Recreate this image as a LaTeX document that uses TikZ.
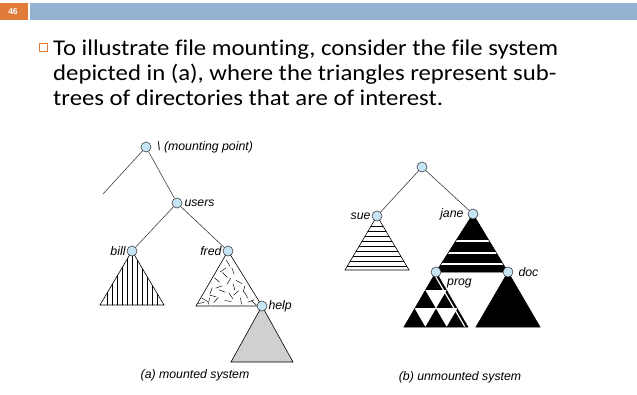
\documentclass[tikz,border=0pt]{standalone}
\usepackage{fontspec}
\setmainfont{Carlito}[FakeStretch=1.1,Ligatures=NoCommon]
\newfontfamily\figfont{Liberation Sans}
\usetikzlibrary{positioning,backgrounds}
\definecolor{slideorange}{HTML}{E07B39}
\definecolor{slideblue}{HTML}{95B3D1}
\definecolor{nodeblue}{HTML}{C6E6F5}
\definecolor{subtreegray}{HTML}{D0D0D0}

\begin{document}
\begin{tikzpicture}[x=1pt,y=-1pt]
\tikzset{
  dirnode/.style={circle,draw=black!75,fill=nodeblue,line width=0.6pt,minimum size=10pt,inner sep=0pt},
  dirlabel/.style={font=\figfont\itshape\fontsize{12.3}{14}\selectfont,inner sep=1pt},
  bodytext/.style={anchor=base west,inner sep=0pt,font=\fontsize{22.5}{25}\selectfont},
  treeedge/.style={draw=black!75,line width=0.6pt},
  subtree/.style={draw=black,line width=0.6pt}
}
\useasboundingbox (0,0) rectangle (637,394);
% slide header
\fill[slideorange] (0,3) rectangle (28,20);
\fill[slideblue] (30,3) rectangle (637,20);
\node[text=white,font=\figfont\bfseries\fontsize{8.5}{9}\selectfont] (slide_no) at (13,11.5) {46};

% bullet text
\draw[slideorange,line width=0.8pt] (39,43) rectangle (47,51);
\node[bodytext] (line_1) at (53,55) {To illustrate file mounting, consider the file system};
\node[bodytext] (line_2) at (53,80) {depicted in (a), where the triangles represent sub-};
\node[bodytext] (line_3) at (53,105) {trees of directories that are of interest.};

% (a) mounted system
\node[dirnode] (root_a) at (146,147) {};
\node[dirlabel,anchor=west] (root_a_lbl) at (156,147) {\textbackslash\ (mounting point)};
\coordinate (root_a_left) at (103,194);
\node[dirnode] (users) at (177,203) {};
\node[dirlabel,right=1pt of users] (users_lbl) {users};
\node[dirnode] (bill) at (132,251) {};
\node[dirlabel,left=0pt of bill] (bill_lbl) {bill};
\node[dirnode] (fred) at (228,251) {};
\node[dirlabel,left=0pt of fred] (fred_lbl) {fred};
\node[dirnode] (help) at (262,306) {};
\node[dirlabel,right=0pt of help] (help_lbl) {help};
\node[dirlabel] (cap_a) at (195,375) {(a) mounted system};

% (b) unmounted system
\node[dirnode] (root_b) at (422,167) {};
\node[dirnode] (sue) at (377,216) {};
\node[dirlabel,left=0pt of sue] (sue_lbl) {sue};
\node[dirnode] (jane) at (473,214) {};
\node[dirlabel,left=3pt of jane] (jane_lbl) {jane};
\node[dirnode] (prog) at (436,272) {};
\node[dirlabel,anchor=west] (prog_lbl) at (446,283) {prog};
\node[dirnode] (doc) at (508,272) {};
\node[dirlabel,right=4pt of doc] (doc_lbl) {doc};
\node[dirlabel] (cap_b) at (460,377) {(b) unmounted system};

\begin{scope}[on background layer]
  \draw[treeedge] (root_a) -- (root_a_left);
  \draw[treeedge] (root_a) -- (users);
  \draw[treeedge] (users) -- (bill);
  \draw[treeedge] (users) -- (fred);
  \draw[treeedge] (root_b) -- (sue);
  \draw[treeedge] (root_b) -- (jane);

  % bill: vertical hatching
  \begin{scope}
    \clip (bill.center) -- ++(-32,54) -- ++(64,0) -- cycle;
    \foreach \dx in {-25,-20,...,25}
      \draw[line width=0.5pt] ([xshift=\dx pt]bill.center) -- ++(0,60);
  \end{scope}
  \draw[subtree] (bill.center) -- ++(-32,54) -- ++(64,0) -- cycle;

  % fred: scattered dashes
  \fill[white] (fred.center) -- (help.center) -- ++(-66,0) -- cycle;
  \foreach \x/\y/\a in {0/12/60,-5/19/-35,5/20/70,-11/29/40,1/30/-60,11/31/30,
      -17/40/-70,-6/40/20,8/42/-40,18/44/60,-23/49/30,-12/49/-50,0/50/10,
      13/50/80,23/50/-20,-3/24/45,-19/50/-80,6/36/75,-9/36/-20,16/38/-75,
      -15/45/15,3/45/55,26/52/40,-27/52/-10}
    \draw[line width=0.45pt] ([shift={(\x,\y)}]fred.center) +(\a:-3.5) -- +(\a:3.5);
  \draw[subtree] (fred.center) -- (help.center) -- ++(-66,0) -- cycle;

  % help: grey subtree
  \draw[subtree,fill=subtreegray] (help.center) -- ++(-31,56) -- ++(62,0) -- cycle;

  % sue: horizontal hatching
  \begin{scope}
    \clip (sue.center) -- ++(-32,54) -- ++(64,0) -- cycle;
    \foreach \dy in {10,15,...,50}
      \draw[line width=0.5pt] ([yshift=-\dy pt]sue.center) ++(-40,0) -- ++(80,0);
  \end{scope}
  \draw[subtree] (sue.center) -- ++(-32,54) -- ++(64,0) -- cycle;

  % jane: black with white bands
  \begin{scope}
    \clip (jane.center) -- (prog.center) -- (doc.center) -- cycle;
    \fill[black] (jane.center) -- (prog.center) -- (doc.center) -- cycle;
    \foreach \dy in {27,39,50}
      \draw[white,line width=1.3pt] ([yshift=-\dy pt]jane.center) ++(-45,0) -- ++(90,0);
  \end{scope}
  \draw[subtree] (jane.center) -- (prog.center) -- (doc.center) -- cycle;

  % prog: triangle grid
  \begin{scope}
    \clip (prog.center) -- ++(-32,55) -- ++(64,0) -- cycle;
    \foreach \r in {0,1,2}
      \foreach \k in {0,...,\r}
        \fill[black] ([shift={(-\r*32/3+\k*64/3,\r*55/3)}]prog.center)
          -- ++(-32/3,55/3) -- ++(64/3,0) -- cycle;
    \foreach \r in {1,2}
      \draw[white,line width=1pt] ([yshift=-\r*55/3 pt]prog.center) ++(-40,0) -- ++(80,0);
    \draw[white,line width=1.2pt] ([xshift=-3pt]prog.center) -- ++(32,55);
  \end{scope}
  \draw[subtree] (prog.center) -- ++(-32,55) -- ++(64,0) -- cycle;

  % doc: black subtree
  \draw[subtree,fill=black] (doc.center) -- ++(-32,55) -- ++(64,0) -- cycle;
\end{scope}
\end{tikzpicture}
\end{document}
